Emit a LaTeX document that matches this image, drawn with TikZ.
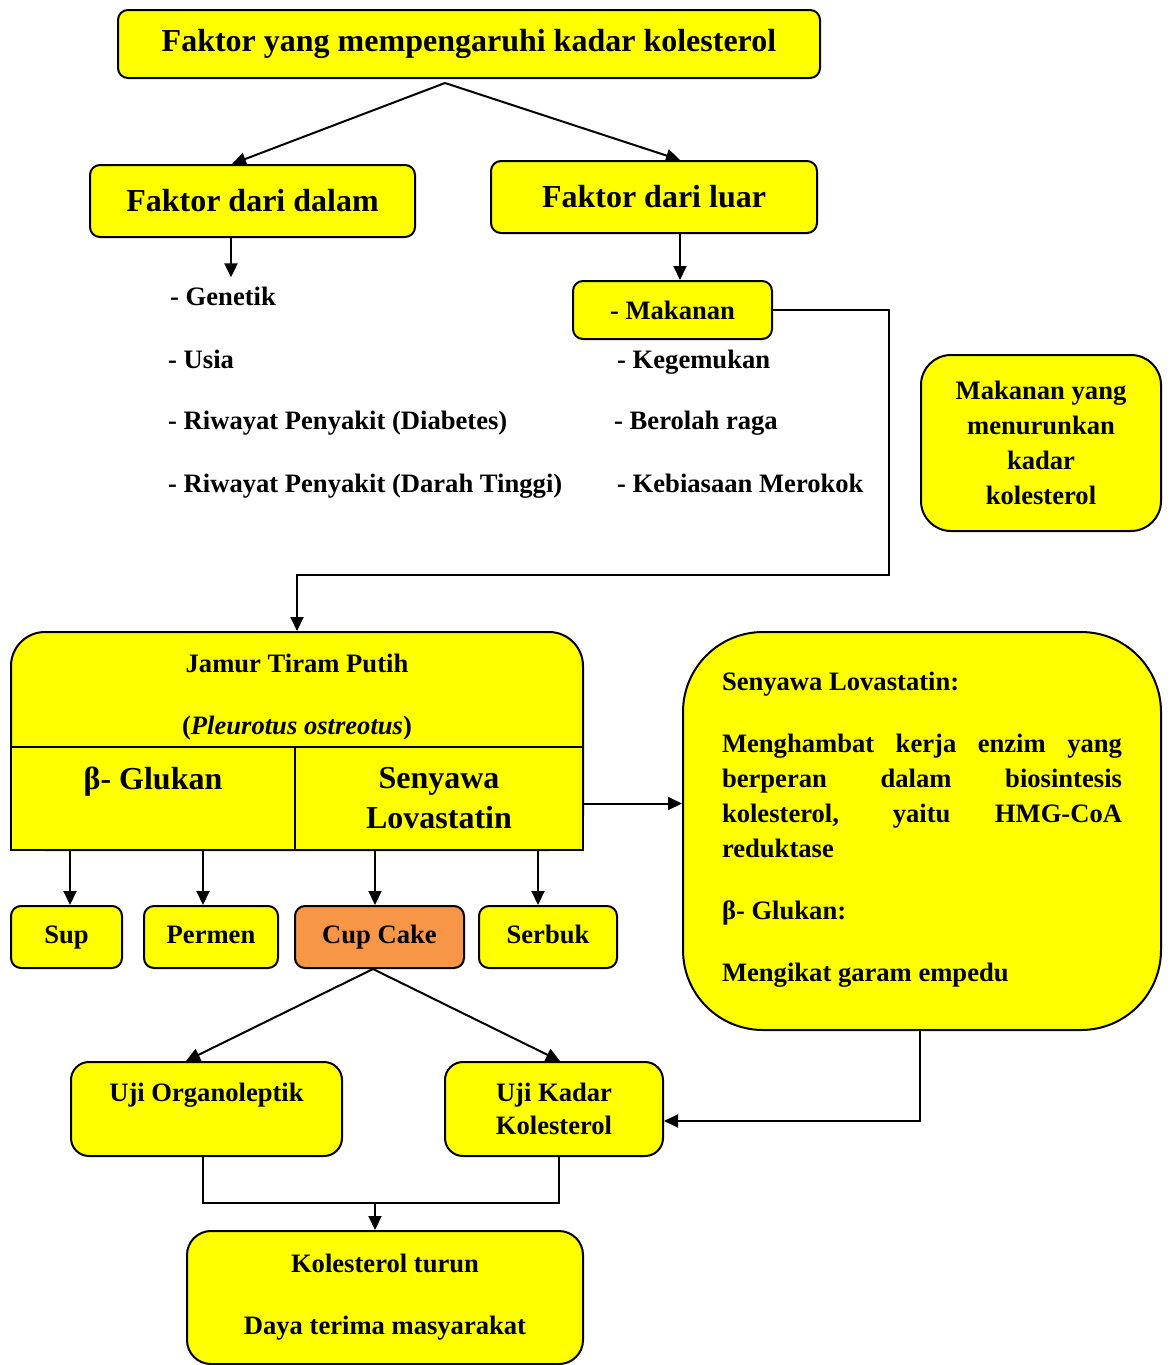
\documentclass[tikz,border=0pt]{standalone}
\usepackage{fontspec}
\setmainfont{Liberation Serif}
\usepackage{xcolor}
\usetikzlibrary{arrows.meta,calc}
\definecolor{kuning}{RGB}{255,255,0}
\definecolor{oranye}{RGB}{247,150,70}
\newcommand{\hurufbesar}{\bfseries\fontsize{16}{20}\selectfont}
\newcommand{\hurufkecil}{\bfseries\fontsize{13.3}{17.5}\selectfont}
\tikzset{
kotakv1/.style={rectangle, rounded corners=5pt, draw=black!100, fill=kuning, line width=1pt, inner sep=0pt, align=center, font=\hurufbesar},
kotakv2/.style={rectangle, rounded corners=5pt, draw=black!100, fill=kuning, line width=1pt, inner sep=0pt, align=center, font=\hurufkecil},
kotakv3/.style={kotakv2, minimum height=31pt, text height=9.3pt, text depth=2.9pt},
selv1/.style={rectangle, draw=black!100, fill=kuning, line width=1pt, inner sep=0pt, align=center, font=\hurufbesar},
teksv1/.style={inner sep=4.4pt, align=left, font=\hurufkecil},
panah/.style={line width=1pt, -{Triangle[length=7pt,width=6.5pt]}},
garis/.style={line width=1pt},
}

\begin{document}
\begin{tikzpicture}[x=0.5pt,y=-0.5pt]
    \useasboundingbox (0,0) rectangle (1171,1365);
    % bagian atas
    \node[kotakv1, minimum width=351pt, minimum height=34pt] at (469,44) (judul) {Faktor yang mempengaruhi kadar kolesterol};
    \node[kotakv1, minimum width=162.5pt, minimum height=36pt] at (252.5,201) (dalam) {Faktor dari dalam};
    \node[kotakv1, minimum width=163pt, minimum height=36pt] at (654,197) (luar) {Faktor dari luar};
    \coordinate (cabang) at (445,83);
    \draw[panah] (cabang) -- ($(dalam.north)+(-20.5,0)$);
    \draw[panah] (cabang) -- ($(luar.north)+(26,0)$);
    % faktor dari dalam
    \node[teksv1, anchor=base west] at (161,305) (genetik) {- Genetik};
    \node[teksv1, anchor=base west] at (159,368) (usia) {- Usia};
    \node[teksv1, anchor=base west] at (159,429) (diabetes) {- Riwayat Penyakit (Diabetes)};
    \node[teksv1, anchor=base west] at (159,492) (darah) {- Riwayat Penyakit (Darah Tinggi)};
    \coordinate (dalambawah) at ($(dalam.south)+(-21.5,0)$);
    \draw[panah] (dalambawah) -- (dalambawah |- genetik.north);
    % faktor dari luar
    \node[kotakv2, minimum width=99.5pt, minimum height=29pt] at (672.5,310) (makanan) {- Makanan};
    \node[teksv1, anchor=base west] at (608,368) (gemuk) {- Kegemukan};
    \node[teksv1, anchor=base west] at (605,429) (olahraga) {- Berolah raga};
    \node[teksv1, anchor=base west] at (608,492) (rokok) {- Kebiasaan Merokok};
    \coordinate (luarbawah) at ($(luar.south)+(26,0)$);
    \draw[panah] (luarbawah) -- (luarbawah |- makanan.north);
    \node[kotakv2, rounded corners=15pt, minimum width=120pt, minimum height=88pt] at (1041,443) (turun) {Makanan yang\\menurunkan\\kadar\\kolesterol};
    % jamur tiram putih
    \node[kotakv1, rounded corners=17pt, minimum width=286pt, minimum height=109pt] at (297,741) (jamur) {};
    \node[teksv1, align=center] at (297,697) (jamurjudul) {Jamur Tiram Putih\\[13.5pt](\textit{Pleurotus ostreotus})};
    \node[selv1, minimum width=142pt, minimum height=51.5pt] at (153,798.5) (glukan) {β- Glukan\\~};
    \node[selv1, minimum width=144pt, minimum height=51.5pt] at (439,798.5) (lova) {Senyawa\\Lovastatin};
    \coordinate (belok) at (889,575);
    \draw[panah] (makanan.east) -| (belok) -| (jamur.north);
    % produk
    \node[kotakv3, minimum width=55.5pt] at (66.5,937) (sup) {Sup};
    \node[kotakv3, minimum width=67pt] at (211,937) (permen) {Permen};
    \node[kotakv3, fill=oranye, minimum width=84.5pt] at (379.5,937) (cupcake) {Cup Cake};
    \node[kotakv3, minimum width=69pt] at (548,937) (serbuk) {Serbuk};
    \foreach \x/\b/\c in {70/sup/glukan, 203/permen/glukan, 375/cupcake/lova, 538/serbuk/lova}
        \draw[panah] (\c.south -| \x,0) -- (\b.north -| \x,0);
    % keterangan senyawa
    \node[kotakv2, rounded corners=40pt, align=left, minimum width=239pt, minimum height=199pt] at (922,831) (khasiat) {Senyawa Lovastatin:\\[13.5pt]
        \makebox[200pt][s]{Menghambat kerja enzim yang}\\
        \makebox[200pt][s]{berperan dalam biosintesis}\\
        \makebox[200pt][s]{kolesterol, yaitu HMG-CoA}\\
        reduktase\\[13.5pt]
        β- Glukan:\\[13.5pt]
        Mengikat garam empedu\\[-13pt]~};
    \draw[panah] ([yshift=-2.5pt]lova.east) -- ([yshift=-2.5pt]khasiat.west |- lova.east);
    % uji
    \node[kotakv2, rounded corners=9pt, minimum width=135.5pt, minimum height=47pt, font=\bfseries\fontsize{13.3}{16.5}\selectfont] at (206.5,1109) (organo) {Uji Organoleptik\\~};
    \node[kotakv2, rounded corners=9pt, minimum width=109pt, minimum height=47pt, font=\bfseries\fontsize{13.3}{16.5}\selectfont] at (554,1109) (kadar) {Uji Kadar\\Kolesterol};
    \draw[panah] (cupcake.south -| 373,0) -- (organo.north -| 186,0);
    \draw[panah] (cupcake.south -| 373,0) -- (kadar.north -| 560,0);
    \draw[panah] (khasiat.south -| 920,0) |- ([yshift=-6pt]kadar.east);
    % hasil
    \node[kotakv2, rounded corners=12pt, minimum width=198pt, minimum height=66.5pt] at (385,1297.5) (hasil) {Kolesterol turun\\[13.5pt]Daya terima masyarakat};
    \coordinate (gabung) at (375,1203);
    \draw[garis] (organo.south -| 203,0) |- (gabung) -| (kadar.south -| 559,0);
    \draw[panah] (gabung) -- (hasil.north -| gabung);
\end{tikzpicture}
\end{document}
